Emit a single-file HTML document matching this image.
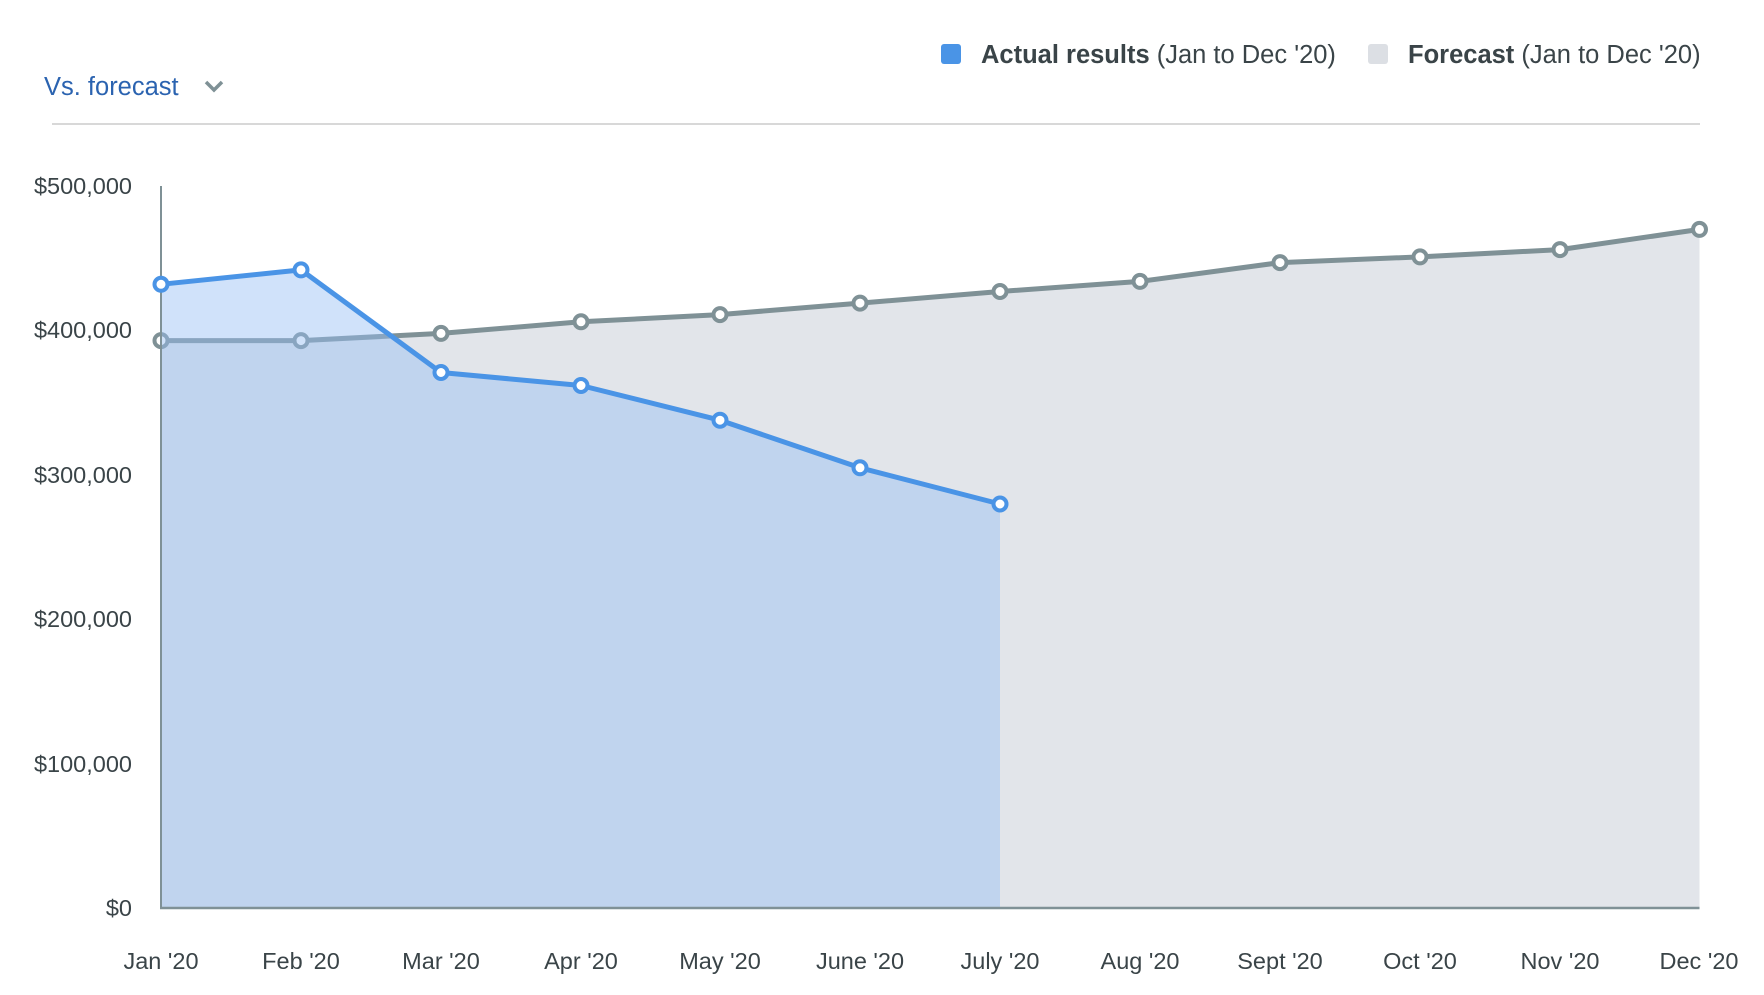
<!DOCTYPE html>
<html><head><style>
body{margin:0;background:#fff;width:1764px;height:990px;overflow:hidden;font-family:"Liberation Sans",sans-serif;}
</style></head><body>
<svg width="1764" height="990" viewBox="0 0 1764 990" xmlns="http://www.w3.org/2000/svg" font-family="Liberation Sans, sans-serif">
<text x="44" y="95" font-size="25.5" fill="#2b63b0">Vs. forecast</text>
<polyline points="206,82 214,90 222,82" fill="none" stroke="#7f9196" stroke-width="3.5"/>
<rect x="941" y="44" width="20" height="20" rx="3" fill="#4a94e6"/>
<text x="981" y="63" font-size="25.5" fill="#3a4448"><tspan font-weight="bold">Actual results</tspan> (Jan to Dec '20)</text>
<rect x="1368" y="44" width="20" height="20" rx="3" fill="#dcdfe4"/>
<text x="1408" y="63" font-size="25.5" fill="#3a4448"><tspan font-weight="bold">Forecast</tspan> (Jan to Dec '20)</text>
<line x1="52" y1="124" x2="1700" y2="124" stroke="#d8d8d8" stroke-width="2"/>
<g font-size="23.5" fill="#3a4448" text-anchor="end">
<text x="132" y="194">$500,000</text><text x="132" y="338">$400,000</text><text x="132" y="483">$300,000</text>
<text x="132" y="627">$200,000</text><text x="132" y="772">$100,000</text><text x="132" y="916">$0</text>
</g>
<g font-size="23.5" fill="#3a4448" text-anchor="middle">
<text x="161" y="969">Jan '20</text><text x="301" y="969">Feb '20</text><text x="441" y="969">Mar '20</text>
<text x="581" y="969">Apr '20</text><text x="720" y="969">May '20</text><text x="860" y="969">June '20</text>
<text x="1000" y="969">July '20</text><text x="1140" y="969">Aug '20</text><text x="1280" y="969">Sept '20</text>
<text x="1420" y="969">Oct '20</text><text x="1560" y="969">Nov '20</text><text x="1699" y="969">Dec '20</text>
</g>
<polygon points="161,908 161,340.6 301,340.6 441,333.4 581,321.8 720,314.6 860,303.1 1000,291.5 1140,281.4 1280,262.6 1420,256.9 1560,249.6 1699.5,229.4 1699.5,908" fill="#e2e5ea"/>
<polyline points="161,340.6 301,340.6 441,333.4 581,321.8 720,314.6 860,303.1 1000,291.5 1140,281.4 1280,262.6 1420,256.9 1560,249.6 1699.5,229.4" fill="none" stroke="#7f9196" stroke-width="5" stroke-linejoin="round"/>
<g fill="#fff" stroke="#7f9196" stroke-width="4">
<circle cx="161" cy="340.6" r="6.5"/><circle cx="301" cy="340.6" r="6.5"/><circle cx="441" cy="333.4" r="6.5"/><circle cx="581" cy="321.8" r="6.5"/><circle cx="720" cy="314.6" r="6.5"/><circle cx="860" cy="303.1" r="6.5"/><circle cx="1000" cy="291.5" r="6.5"/><circle cx="1140" cy="281.4" r="6.5"/><circle cx="1280" cy="262.6" r="6.5"/><circle cx="1420" cy="256.9" r="6.5"/><circle cx="1560" cy="249.6" r="6.5"/><circle cx="1699.5" cy="229.4" r="6.5"/>
</g>
<polygon points="161,908 161,284.3 301,269.9 441,372.5 581,385.5 720,420.2 860,467.8 1000,504 1000,908" fill="rgb(150,190,245)" fill-opacity="0.45"/>
<line x1="161" y1="186" x2="161" y2="909" stroke="#7f9196" stroke-width="2"/>
<line x1="160" y1="908" x2="1699.5" y2="908" stroke="#7f9196" stroke-width="2.5"/>
<polyline points="161,284.3 301,269.9 441,372.5 581,385.5 720,420.2 860,467.8 1000,504" fill="none" stroke="#4a94e6" stroke-width="5" stroke-linejoin="round"/>
<g fill="#fff" stroke="#4a94e6" stroke-width="4">
<circle cx="161" cy="284.3" r="6.5"/><circle cx="301" cy="269.9" r="6.5"/><circle cx="441" cy="372.5" r="6.5"/><circle cx="581" cy="385.5" r="6.5"/><circle cx="720" cy="420.2" r="6.5"/><circle cx="860" cy="467.8" r="6.5"/><circle cx="1000" cy="504" r="6.5"/>
</g>
</svg>
</body></html>
